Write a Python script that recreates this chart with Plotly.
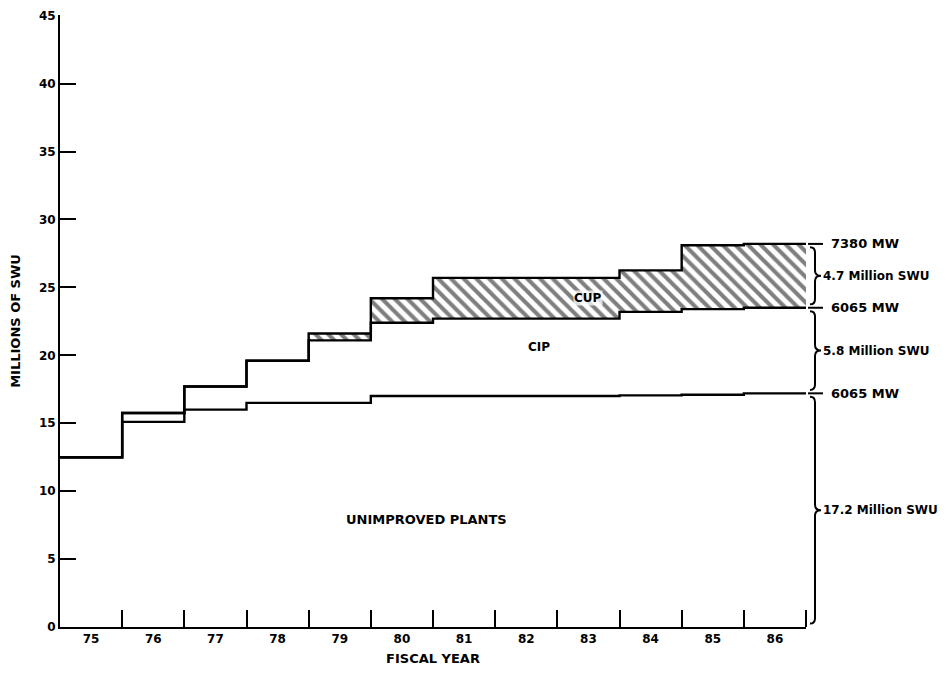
import plotly.graph_objects as go

# ---- data ----
years = [75, 76, 77, 78, 79, 80, 81, 82, 83, 84, 85, 86]
tick_labels = ["75", "76", "77", "78", "79", "80", "81", "82", "83", "84", "85", "86"]
unimproved = [12.5, 15.1, 16.0, 16.5, 16.5, 17.0, 17.0, 17.0, 17.0, 17.05, 17.1, 17.2]
cip_top = [12.5, 15.75, 17.7, 19.6, 21.1, 22.4, 22.7, 22.7, 22.7, 23.2, 23.4, 23.5]
cup_top = [12.5, 15.75, 17.7, 19.6, 21.6, 24.2, 25.7, 25.7, 25.7, 26.25, 28.1, 28.2]
mw_labels = ["7380 MW", "6065 MW", "6065 MW"]
swu_labels = ["4.7 Million SWU", "5.8 Million SWU", "17.2 Million SWU"]
region_labels = ["CUP", "CIP", "UNIMPROVED PLANTS"]

edges = [y - 0.5 for y in years] + [years[-1] + 0.5]


def step(vals):
    return vals + [vals[-1]]


LINE = dict(color="black", width=2.4, shape="hv")
fig = go.Figure()
fig.add_trace(go.Scatter(x=edges, y=step(unimproved), mode="lines", line=LINE,
                         hoverinfo="skip", showlegend=False))
fig.add_trace(go.Scatter(x=edges, y=step(cip_top), mode="lines", line=LINE,
                         hoverinfo="skip", showlegend=False))
fig.add_trace(go.Scatter(x=edges, y=step(cup_top), mode="lines", line=LINE,
                         fill="tonexty", fillcolor="white",
                         fillpattern=dict(shape="\\", size=9, solidity=0.45,
                                          fgcolor="black", bgcolor="white"),
                         hoverinfo="skip", showlegend=False))

# ---- in-plot region labels ----
fig.add_annotation(x=83.0, y=24.2, text=region_labels[0], showarrow=False,
                   font=dict(size=12), bgcolor="rgba(255,255,255,0.75)", borderpad=0)
fig.add_annotation(x=82.2, y=20.6, text=region_labels[1], showarrow=False,
                   font=dict(size=12))
fig.add_annotation(x=80.4, y=7.9, text=region_labels[2], showarrow=False,
                   font=dict(size=13))

# ---- right-hand level marks, braces and labels ----
levels = [cup_top[-1], cip_top[-1], unimproved[-1], 0.0]
for i, lab in enumerate(mw_labels):
    lv = levels[i]
    fig.add_shape(type="line", xref="paper", xsizemode="pixel", xanchor=1,
                  x0=2, x1=17, yref="y", y0=lv, y1=lv,
                  line=dict(color="black", width=2))
    fig.add_annotation(xref="paper", x=1, xshift=23, xanchor="left", yref="y", y=lv,
                       text=lab, showarrow=False, font=dict(size=13))

d = 0.4
for i, lab in enumerate(swu_labels):
    yt = levels[i] - 0.25
    yb = levels[i + 1] + 0.25
    ym = (levels[i] + levels[i + 1]) / 2
    xe, xb, xt = 4, 9, 15
    path = (f"M {xe},{yt} Q {xb},{yt} {xb},{yt - d} L {xb},{ym + d} "
            f"Q {xb},{ym} {xt},{ym} Q {xb},{ym} {xb},{ym - d} "
            f"L {xb},{yb + d} Q {xb},{yb} {xe},{yb}")
    fig.add_shape(type="path", xref="paper", xsizemode="pixel", xanchor=1,
                  yref="y", path=path, line=dict(color="black", width=2))
    fig.add_annotation(xref="paper", x=1, xshift=15, xanchor="left", yref="y", y=ym,
                       text=lab, showarrow=False, font=dict(size=12))

fig.update_layout(
    width=941, height=668,
    margin=dict(l=52, r=143, t=7, b=49, autoexpand=False),
    paper_bgcolor="white", plot_bgcolor="white",
    font=dict(family="DejaVu Sans", size=12, color="black", weight="bold"),
    xaxis=dict(range=[edges[0], edges[-1]], tickmode="array", tickvals=years,
               ticktext=tick_labels, ticks="", showline=True, linewidth=2,
               linecolor="black", showgrid=False, zeroline=False, automargin=False,
               title=dict(text="FISCAL YEAR", font=dict(size=13), standoff=8),
               minor=dict(tickmode="array", tickvals=edges[1:], ticks="inside",
                          ticklen=17, tickwidth=2, tickcolor="black", showgrid=False)),
    yaxis=dict(range=[0, 45.05], tickmode="array", tickvals=list(range(0, 46, 5)),
               ticks="inside", ticklen=16, tickwidth=2, tickcolor="black",
               showline=True, linewidth=2, linecolor="black", showgrid=False,
               zeroline=False, automargin=False,
               title=dict(text="MILLIONS OF SWU", font=dict(size=13), standoff=15)),
)

fig.write_html("out.html")
